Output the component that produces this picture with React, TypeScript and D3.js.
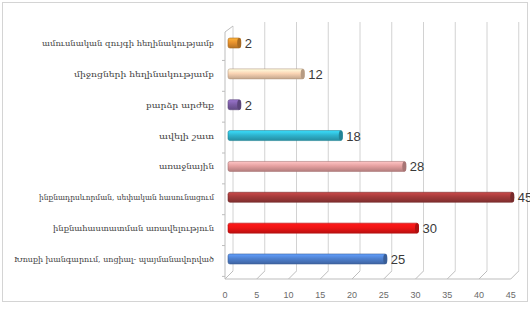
import React from "react";
import * as d3 from "d3";

const categories = [
  "ամուսնական զույգի հեղինակությամբ",
  "միջոցների հեղինակությամբ",
  "բարձր արժեք",
  "ավելի շատ",
  "առաջնային",
  "ինքնադրսևորման, սեփական հասունացում",
  "ինքնահաստատման առավելություն",
  "Խոսքի խանգարում, սոցիալ- պայմանավորված",
];
const values = [2, 12, 2, 18, 28, 45, 30, 25];
const colors = ["#E8922E", "#FBD5B5", "#7E5FA8", "#2FB5CF", "#E6A0A0", "#A43B3B", "#F01414", "#4F81D0"];
const labelWidths = [172, 140, 68, 55, 55, 175, 161, 200];
const ticks = [0, 5, 10, 15, 20, 25, 30, 35, 40, 45];

const W = 530;
const H = 311;

export default function App() {
  const y = d3.scaleBand<string>().domain(categories).range([27.6, 274.4]).padding(0);
  const unit = 6.35;
  const xFront = d3.scaleLinear().domain([0, 45]).range([225, 225 + 45 * unit]);
  const xBar = d3.scaleLinear().domain([0, 45]).range([228, 228 + 45 * unit]);
  const xBack = d3.scaleLinear().domain([0, 45]).range([233, 233 + 45 * unit]);
  const floorFront = 279;
  const floorBack = 271;
  const top = 22;
  const barH = 10;

  return (
    <svg width={W} height={H} style={{ position: "fixed", left: 0, top: 0, background: "#fff" }}
      fontFamily="DejaVu Serif, serif">
      <defs>
        {colors.map((c, i) => {
          const base = d3.color(c)!;
          return (
            <linearGradient key={i} id={`g${i}`} x1="0" y1="0" x2="0" y2="1">
              <stop offset="0" stopColor={base.brighter(0.6).formatHex()} />
              <stop offset="0.45" stopColor={c} />
              <stop offset="1" stopColor={base.darker(0.7).formatHex()} />
            </linearGradient>
          );
        })}
      </defs>
      <rect x={2.5} y={2.5} width={525} height={299} fill="none" stroke="#d4d4d4" />
      {ticks.map((t) => (
        <g key={t}>
          <line x1={xBack(t)} x2={xBack(t)} y1={t === 0 ? top + 4 : top} y2={floorBack} stroke="#d2d2d2" strokeWidth={1} />
          <line x1={xBack(t)} y1={floorBack} x2={xFront(t)} y2={floorFront} stroke="#bdbdbd" strokeWidth={1} />
          <text x={xFront(t)} y={298} fontSize={9} fill="#6a6a6a" textAnchor="middle" fontFamily="Liberation Sans, sans-serif">{t}</text>
        </g>
      ))}
      <line x1={xFront(0)} x2={xFront(45)} y1={floorFront} y2={floorFront} stroke="#bdbdbd" />
      <line x1={xFront(0)} x2={xFront(0)} y1={top + 10} y2={floorFront} stroke="#bdbdbd" />
      <line x1={xFront(0)} y1={top + 10} x2={xBack(0)} y2={top + 4} stroke="#bdbdbd" />
      {categories.map((c) => (
        <line key={c} x1={xFront(0) - 3} x2={xFront(0)} y1={(y(c) as number) + y.bandwidth() + 2} y2={(y(c) as number) + y.bandwidth() + 2} stroke="#bdbdbd" />
      ))}
      {categories.map((c, i) => {
        const cy = (y(c) as number) + y.bandwidth() / 2;
        const x0 = xBar(0);
        const x1 = xBar(values[i]);
        const dark = d3.color(colors[i])!.darker(0.9).formatHex();
        return (
          <g key={c}>
            <rect x={x0} y={cy - barH / 2} width={x1 - x0} height={barH} rx={2} fill={`url(#g${i})`} stroke={dark} strokeWidth={0.6} />
            <ellipse cx={x1 - 1.5} cy={cy} rx={2} ry={barH / 2} fill={dark} />
            <text x={x1 + 4} y={cy + 5} fontSize={13} fill="#3a3a3a" fontFamily="Liberation Sans, sans-serif">{values[i]}</text>
            <text x={214} y={cy + 3} fontSize={8} fill="#444" textAnchor="end" textLength={labelWidths[i]} lengthAdjust="spacingAndGlyphs">{c}</text>
          </g>
        );
      })}
    </svg>
  );
}
